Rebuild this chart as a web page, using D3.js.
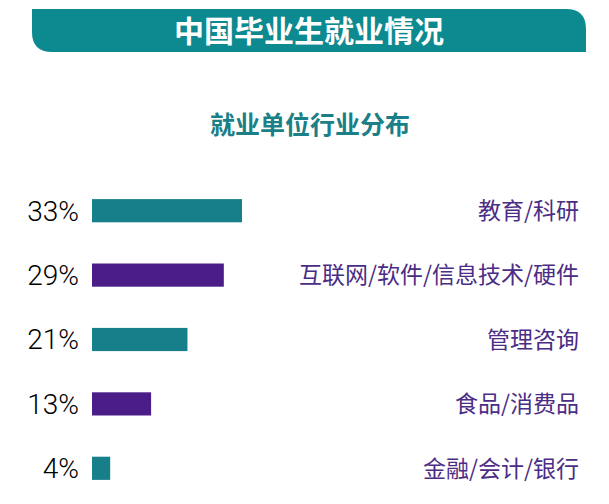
<!DOCTYPE html>
<html>
<head>
<meta charset="utf-8">
<script src="https://cdn.jsdelivr.net/npm/d3@7"></script>
<style>
  html, body { margin: 0; padding: 0; background: #fff; }
  svg { display: block; }
</style>
</head>
<body>
<svg id="chart" width="609" height="504"></svg>
<script>
const title = '中国毕业生就业情况';
const subtitle = '就业单位行业分布';
const categories = ['教育/科研', '互联网/软件/信息技术/硬件', '管理咨询', '食品/消费品', '金融/会计/银行'];
const shares = [33, 29, 21, 13, 4];
const barColors = ['#177f89', '#4a1d88', '#177f89', '#4a1d88', '#177f89'];

const width = 609;
const height = 504;
const svg = d3.select('#chart');

// banner: square top-left / bottom-right, rounded bottom-left / top-right
const bx0 = 32, bx1 = 586, by0 = 9, by1 = 52, r = 20;
svg.append('path')
  .attr('d', `M${bx0},${by0} L${bx1 - r},${by0} Q${bx1},${by0} ${bx1},${by0 + r} L${bx1},${by1}` +
    ` L${bx0 + r},${by1} Q${bx0},${by1} ${bx0},${by1 - r} Z`)
  .attr('fill', '#0d8990');

svg.append('text')
  .attr('x', 309)
  .attr('y', 42)
  .attr('text-anchor', 'middle')
  .attr('font-family', '"Noto Sans CJK SC", sans-serif')
  .attr('font-weight', 700)
  .attr('font-size', 30)
  .attr('fill', '#fff')
  .text(title);

svg.append('text')
  .attr('x', 310)
  .attr('y', 134)
  .attr('text-anchor', 'middle')
  .attr('font-family', '"Noto Sans CJK SC", sans-serif')
  .attr('font-weight', 700)
  .attr('font-size', 25)
  .attr('fill', '#1a7f87')
  .text(subtitle);

const x = d3.scaleLinear().domain([0, 33]).range([92, 242]);
const y = d3.scaleBand()
  .domain(categories)
  .range([178.5, 500.5])
  .paddingInner(0.64)
  .paddingOuter(0.32);

const rows = svg.selectAll('.row')
  .data(categories)
  .enter().append('g')
  .attr('class', 'row');

rows.append('rect')
  .attr('x', x(0))
  .attr('y', d => y(d))
  .attr('width', (d, i) => x(shares[i]) - x(0))
  .attr('height', y.bandwidth())
  .attr('fill', (d, i) => barColors[i]);

rows.append('text')
  .attr('x', 79)
  .attr('y', d => y(d) + y.bandwidth() / 2)
  .attr('dy', '0.35em')
  .attr('text-anchor', 'end')
  .attr('font-family', 'Roboto, sans-serif')
  .attr('font-weight', 300)
  .attr('font-size', 28)
  .attr('fill', '#000')
  .text((d, i) => shares[i] + '%');

rows.append('text')
  .attr('x', 579)
  .attr('y', d => y(d) + y.bandwidth() / 2)
  .attr('dy', '0.36em')
  .attr('text-anchor', 'end')
  .attr('font-family', '"Noto Sans CJK SC", sans-serif')
  .attr('font-size', 23)
  .attr('fill', '#4b2d85')
  .text(d => d);
</script>
</body>
</html>
